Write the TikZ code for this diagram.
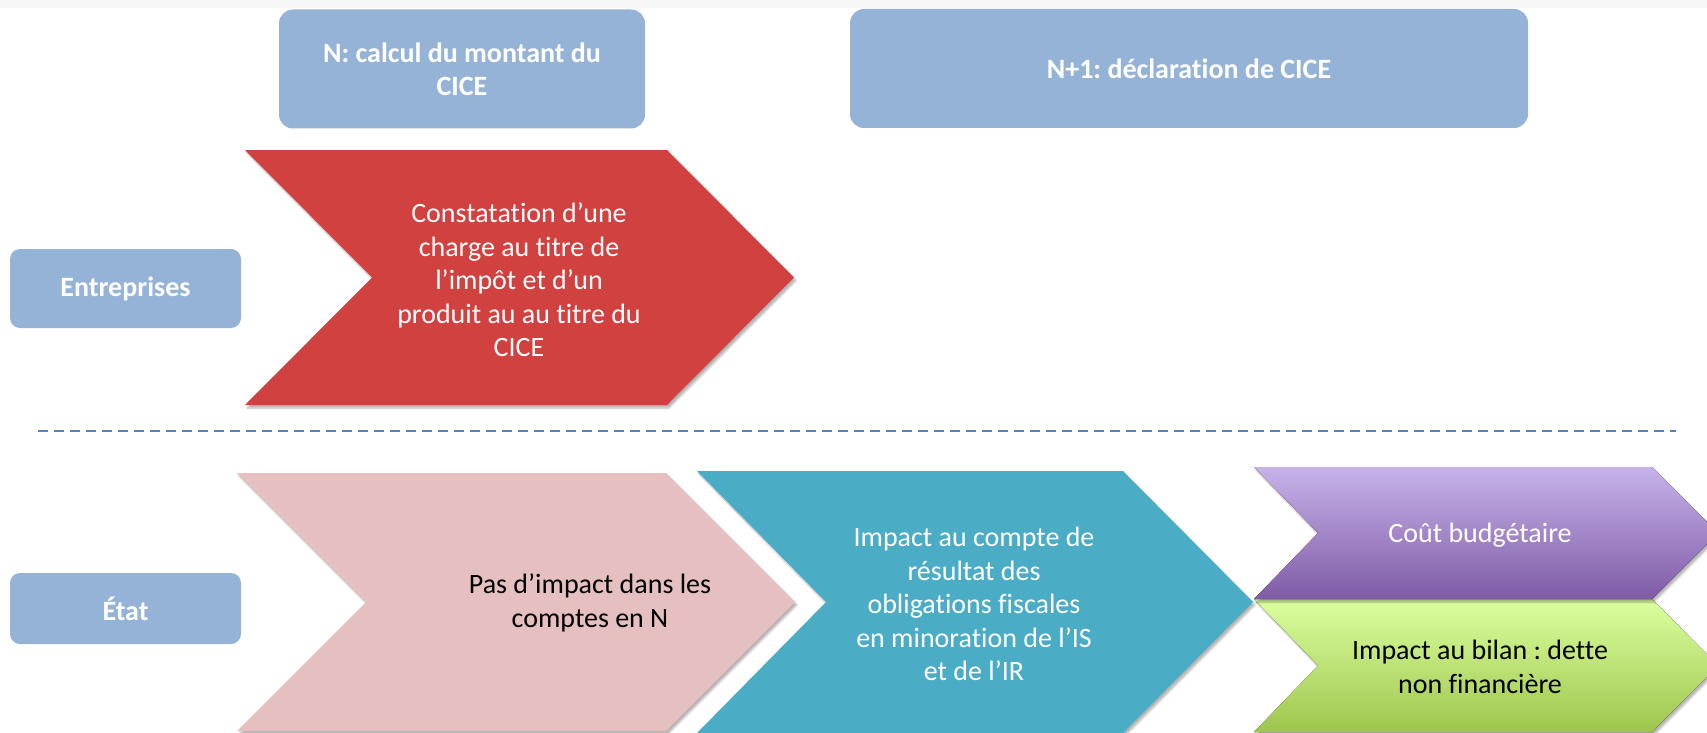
\documentclass[tikz,border=0pt]{standalone}
\usepackage{fontspec}
\setmainfont{Carlito}[Ligatures=NoCommon]
\usetikzlibrary{shadows.blur}
\frenchspacing
\definecolor{hblue}{HTML}{95B3D7}
\definecolor{cred}{HTML}{D04140}
\definecolor{cpink}{HTML}{E6C0C0}
\definecolor{cteal}{HTML}{4BACC6}
\definecolor{cpurtop}{HTML}{C7B3EA}
\definecolor{cpurbot}{HTML}{7F5BA6}
\definecolor{cgretop}{HTML}{DBFF9F}
\definecolor{cgrebot}{HTML}{9EC64E}
\definecolor{cdash}{HTML}{4F81BD}
\begin{document}
\begin{tikzpicture}[x=1pt,y=-1pt,
  hdr/.style={fill=hblue, text=white, inner sep=0pt, align=center,
    font=\bfseries\fontsize{28}{33}\selectfont},
  txt/.style={align=center, inner sep=0pt, font=\fontsize{28}{33.5}\selectfont},
  shad/.style={blur shadow={shadow xshift=2pt, shadow yshift=-3pt, shadow blur steps=6, shadow opacity=30}}]
\useasboundingbox (0,0) rectangle (1707,733);
\fill[black!3] (0,0) rectangle (1707,8);
% header boxes
\node[hdr, rounded corners=14pt, minimum width=366pt, minimum height=119pt] (hN) at (462,69) {N: calcul du montant du\\CICE};
\node[hdr, rounded corners=14pt, minimum width=678pt, minimum height=119pt] (hN1) at (1189,68.5) {N+1: déclaration de CICE};
\node[hdr, rounded corners=10pt, minimum width=231pt, minimum height=79pt] (ent) at (125.5,288.5) {Entreprises};
\node[hdr, rounded corners=10pt, minimum width=231pt, minimum height=71pt] (etat) at (125.5,608.5) {État};
% separator
\coordinate (dL) at (38,431);
\coordinate (dR) at (1676,431);
\draw[cdash, line width=1.8pt, dash pattern=on 10pt off 6pt] (dL) -- (dR);
% chevrons
\fill[cred, shad] (245,150) -- (667,150) -- (794,277.5) -- (667,405) -- (245,405) -- (372,277.5) -- cycle;
\fill[cpink, shad] (237,473) -- (666,473) -- (795,602) -- (666,731) -- (237,731) -- (366,602) -- cycle;
\fill[cteal, shad] (697,471) -- (1123,471) -- (1253,602) -- (1123,733) -- (697,733) -- (826,602) -- cycle;
\fill[top color=cgretop, bottom color=cgrebot, shad] (1254,599) -- (1652,599) -- (1718,665.5) -- (1652,732) -- (1254,732) -- (1318,665.5) -- cycle;
\fill[top color=cpurtop, bottom color=cpurbot, shad] (1254,467) -- (1652,467) -- (1718,533) -- (1652,599) -- (1254,599) -- (1318,533) -- cycle;
% texts
\node[txt, text=white] (tred) at (519,280) {Constatation d’une\\charge au titre de\\l’impôt et d’un\\produit au au titre du\\CICE};
\node[txt, text=black] (tpink) at (590,603) {Pas d’impact dans les\\comptes en N};
\node[txt, text=white] (tteal) at (974,604) {Impact au compte de\\résultat des\\obligations fiscales\\en minoration de l’IS\\et de l’IR};
\node[txt, text=white] (tpur) at (1480,535) {Coût budgétaire};
\node[txt, text=black] (tgre) at (1480,667) {Impact au bilan : dette\\non financière};
\end{tikzpicture}
\end{document}
